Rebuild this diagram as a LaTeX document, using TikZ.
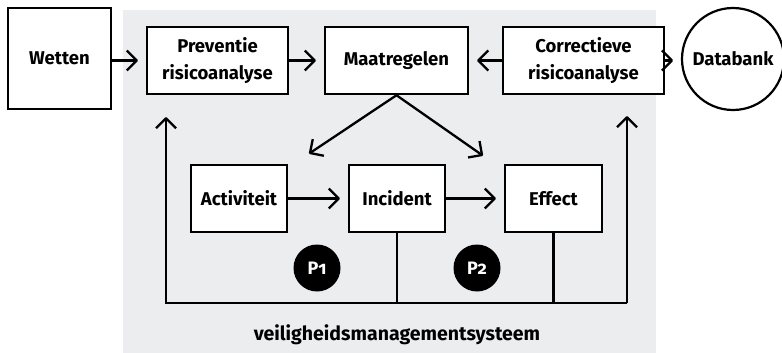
\documentclass[tikz,border=0pt]{standalone}
\usepackage{fontspec}
\setmainfont{Fira Sans}[Numbers=OldStyle]
\usetikzlibrary{arrows.meta,calc}
\definecolor{bggray}{HTML}{ECEDEF}
\pgfdeclarearrow{
  name=BarbV,
  parameters={\the\pgfarrowlength},
  setup code={
    \pgfarrowssettipend{0pt}
    \pgfarrowssetlineend{-1.2pt}
    \pgfarrowssavethe\pgfarrowlength
  },
  drawing code={
    \pgfsetdash{}{0pt}\pgfsetroundjoin\pgfsetbuttcap
    \pgfpathmoveto{\pgfqpoint{-\pgfarrowlength}{\pgfarrowlength}}
    \pgfpathlineto{\pgfqpoint{0pt}{0pt}}
    \pgfpathlineto{\pgfqpoint{-\pgfarrowlength}{-\pgfarrowlength}}
    \pgfusepathqstroke
  },
  defaults={length=8pt}
}
\begin{document}
\begin{tikzpicture}[x=1pt,y=-1pt,
  box/.style={draw,line width=2.5pt,fill=white,inner sep=0pt,align=center,font=\fontsize{18.5}{27}\selectfont\bfseries},
  conn/.style={line width=2.3pt},
  arr/.style={conn,-{BarbV[length=10pt]},shorten >=9pt},
  pbadge/.style={circle,fill=black,minimum size=47pt,inner sep=0pt,text=white,font=\fontsize{18}{20}\selectfont\bfseries}]
\useasboundingbox (0,0) rectangle (782,353);
\fill[bggray] (123,10) rectangle (656,353);
\node[box,minimum width=103pt,minimum height=101pt] (wet) at (59.5,58.5) {Wetten};
\node[box,minimum width=141pt,minimum height=67pt] (prev) at (217.5,60.5) {Preventie\\risicoanalyse};
\node[box,minimum width=143pt,minimum height=67pt] (maat) at (396.5,60.5) {Maatregelen};
\node[box,minimum width=161pt,minimum height=67pt] (corr) at (583.5,60.5) {Correctieve\\risicoanalyse};
\node[box,circle,minimum size=102pt,line width=2.2pt] (data) at (733,59) {Databank};
\node[box,minimum width=96pt,minimum height=67pt] (act) at (239,198.5) {Activiteit};
\node[box,minimum width=96pt,minimum height=67pt] (inc) at (397,198.5) {Incident};
\node[box,minimum width=97pt,minimum height=67pt] (eff) at (553.5,198.5) {Effect};
\node[pbadge] (p1) at (317,268) {P1};
\node[pbadge] (p2) at (477,268) {P2};
\node[font=\fontsize{19.5}{22}\selectfont\bfseries] (lbl) at (397,335) {veiligheidsmanagementsysteem};
\coordinate (bl) at (166,303);
\coordinate (br) at (627,303);
\coordinate (dl) at (310,153);
\coordinate (dr) at (482,155);
\draw[arr] (wet.east |- prev.west) -- (prev.west);
\draw[arr] (prev.east) -- (maat.west);
\draw[arr] (corr.west) -- (maat.east);
\draw[arr] (corr.east) -- (corr.east -| data.west);
\draw[arr] (act.east) -- (inc.west);
\draw[arr] (inc.east) -- (eff.west);
\draw[arr,shorten >=0pt] (maat.south) -- (dl);
\draw[arr,shorten >=0pt] (maat.south) -- (dr);
\draw[conn] (inc.south) -- (inc.south |- bl);
\draw[conn] (eff.south) -- (eff.south |- bl);
\draw[arr,shorten >=23pt] (br) -- (bl) -- (bl |- prev.south);
\draw[arr,shorten >=22pt] (br) -- (br |- corr.south);
\end{tikzpicture}
\end{document}
